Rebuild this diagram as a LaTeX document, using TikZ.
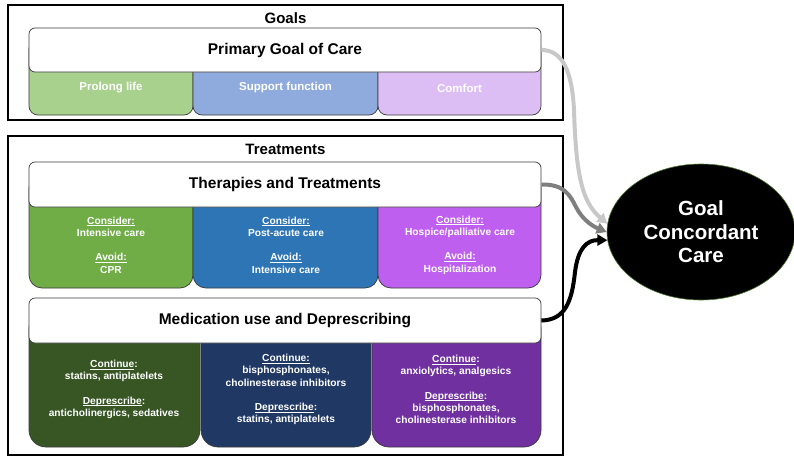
\documentclass[tikz,border=0pt]{standalone}
\usepackage{fontspec}
\setmainfont{Liberation Sans}
\usetikzlibrary{arrows.meta,shapes.geometric}

\definecolor{glife}{HTML}{A9D18E}
\definecolor{gfunc}{HTML}{8FAADC}
\definecolor{gcomf}{HTML}{DCBEF5}
\definecolor{tgreen}{HTML}{70AD47}
\definecolor{tblue}{HTML}{2E75B6}
\definecolor{tpurple}{HTML}{BF5FF0}
\definecolor{mgreen}{HTML}{375623}
\definecolor{mnavy}{HTML}{1F3864}
\definecolor{mpurple}{HTML}{7030A0}
\definecolor{arrlight}{HTML}{C8C8C8}
\definecolor{arrmid}{HTML}{7F7F7F}
\definecolor{edge}{HTML}{3A3A3A}

% underline at a fixed depth, independent of descenders
\newsavebox\ulinebox
\newcommand\ulx[1]{\sbox\ulinebox{#1}\leavevmode\rlap{\rule[-1.8pt]{\wd\ulinebox}{0.7pt}}\usebox\ulinebox}

\tikzset{
  frame/.style={draw=black, line width=1.5pt},
  headbox/.style={draw=edge, line width=0.7pt, fill=white, rounded corners=6pt,
    minimum width=512pt, inner sep=0pt,
    font=\fontsize{15.5}{18}\selectfont\bfseries},
  subbox/.style={draw=edge, line width=0.7pt},
  grouptitle/.style={font=\fontsize{15}{18}\selectfont\bfseries, inner sep=0pt},
  goaltext/.style={text=white, font=\fontsize{11.5}{14}\selectfont\bfseries, inner sep=0pt},
  celltext/.style={text=white, align=center, inner sep=0pt,
    font=\fontsize{10.2}{12.2}\selectfont\bfseries},
  flow/.style={line width=4pt, -{Triangle[length=10pt,width=11pt]}}
}

\begin{document}
\begin{tikzpicture}[x=1pt,y=-1pt]
\useasboundingbox (0,0) rectangle (794,458);

% ---- Goals group ----
\draw[frame] (8,5) rectangle (563,120);
\node[grouptitle] (goalstitle) at (285.5,18) {Goals};
\draw[subbox, fill=glife,  rounded corners=9pt] (29,40)  rectangle (193,115);
\draw[subbox, fill=gfunc,  rounded corners=9pt] (193,40) rectangle (378,115);
\draw[subbox, fill=gcomf,  rounded corners=9pt] (378,40) rectangle (541,115);
\node[headbox, minimum height=44pt] (primary) at (285,50) {Primary Goal of Care};
\node[goaltext] (life) at (111,88) {Prolong life};
\node[goaltext] (func) at (285.5,88) {Support function};
\node[goaltext] (comf) at (459.5,88) {Comfort};

% ---- Treatments group ----
\draw[frame] (8,136) rectangle (563,455);
\node[grouptitle] (treattitle) at (285.5,149) {Treatments};

% therapies row
\draw[subbox, fill=tgreen,  rounded corners=13pt] (29,175)  rectangle (193,288);
\draw[subbox, fill=tblue,   rounded corners=13pt] (193,175) rectangle (378,288);
\draw[subbox, fill=tpurple, rounded corners=13pt] (378,175) rectangle (541,288);
\node[headbox, minimum height=45pt] (therapies) at (285,184.5) {Therapies and Treatments};
\node[celltext] (t1) at (111,245) {\ulx{Consider:}\\Intensive care\\[12.2pt]\ulx{Avoid:}\\CPR};
\node[celltext] (t2) at (286,245) {\ulx{Consider:}\\Post-acute care\\[12.2pt]\ulx{Avoid:}\\Intensive care};
\node[celltext] (t3) at (460,245) {\ulx{Consider:}\\Hospice/palliative care\\[12.2pt]\ulx{Avoid:}\\Hospitalization};

% medication row
\draw[subbox, fill=mgreen,  rounded corners=17pt] (29,311)  rectangle (200,447);
\draw[subbox, fill=mnavy,   rounded corners=17pt] (201,311) rectangle (371,447);
\draw[subbox, fill=mpurple, rounded corners=17pt] (372,311) rectangle (541,447);
\node[headbox, minimum height=45pt] (medication) at (285,320.5) {Medication use and Deprescribing};
\node[celltext] (m1) at (114,389.5) {\ulx{Continue}:\\statins, antiplatelets\\[12.2pt]\ulx{Deprescribe}:\\anticholinergics, sedatives};
\node[celltext] (m2) at (286,389.5) {\ulx{Continue:}\\bisphosphonates,\\cholinesterase inhibitors\\[12.2pt]\ulx{Deprescribe}:\\statins, antiplatelets};
\node[celltext] (m3) at (456,389.5) {\ulx{Continue}:\\anxiolytics, analgesics\\[12.2pt]\ulx{Deprescribe}:\\bisphosphonates,\\cholinesterase inhibitors};

% ---- outcome ----
\node[ellipse, fill=black, draw=tgreen!70!black, line width=0.6pt,
      minimum width=188pt, minimum height=136pt, inner sep=0pt,
      text=white, align=center,
      font=\fontsize{20.5}{23.5}\selectfont\bfseries] (gcc) at (701,232)
      {Goal\\Concordant\\Care};

% ---- connectors ----
\draw[flow, draw=arrlight] (primary.east)
  .. controls (562,50) and (572,70) .. (574,110)
  .. controls (576,175) and (582,202) .. (gcc.175);
\draw[flow, draw=arrmid] (therapies.east)
  .. controls (564,184) and (570,195) .. (576,207)
  .. controls (582,219) and (592,226) .. (gcc.west);
\draw[flow, draw=black] (medication.east)
  .. controls (566,320) and (572,300) .. (575,272)
  .. controls (578,248) and (587,240) .. (gcc.185);
\end{tikzpicture}
\end{document}
